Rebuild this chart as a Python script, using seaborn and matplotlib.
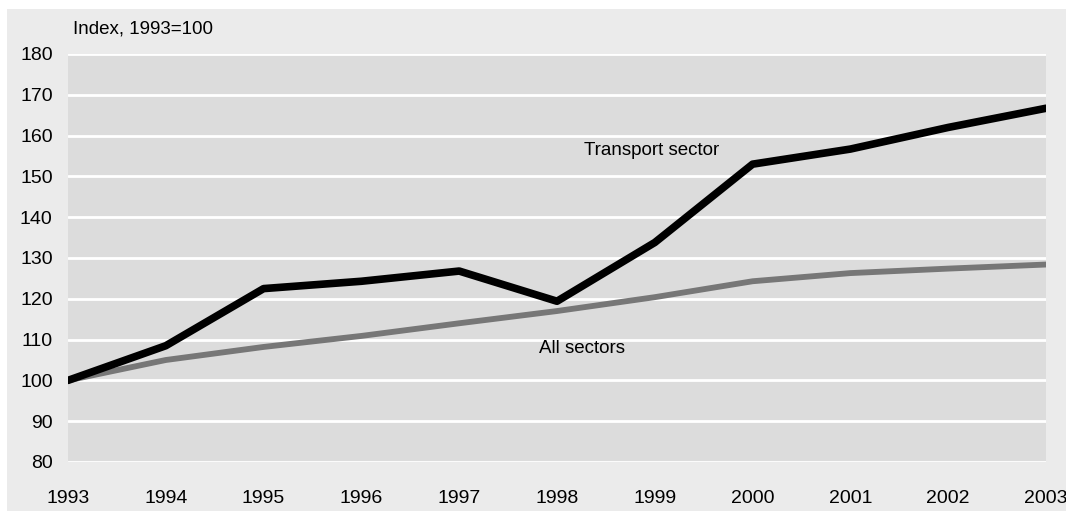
import matplotlib.pyplot as plt
import matplotlib.patches as mpatches
import pandas as pd
import seaborn as sns

# Data (Index, 1993=100)
years = [1993, 1994, 1995, 1996, 1997, 1998, 1999, 2000, 2001, 2002, 2003]
transport = [100, 108.5, 122.5, 124.3, 126.8, 119.4, 133.8, 153.0, 156.7, 162.0, 166.7]
all_sectors = [100, 105.0, 108.2, 110.9, 114.0, 117.0, 120.4, 124.3, 126.3, 127.4, 128.4]
y_ticks = [80, 90, 100, 110, 120, 130, 140, 150, 160, 170, 180]

df = pd.DataFrame({'year': years, 'Transport sector': transport, 'All sectors': all_sectors})

sns.set_style('white')
plt.rcParams['font.family'] = ['Liberation Sans', 'DejaVu Sans']
plt.rcParams['text.color'] = 'black'

fig = plt.figure(figsize=(10.66, 5.13), dpi=100, facecolor='white')
# light grey panel behind everything
fig.patches.append(mpatches.Rectangle((7 / 1066, 2 / 513), 1, 1 - 11 / 513, transform=fig.transFigure,
                                      facecolor='#ebebeb', edgecolor='none', zorder=-1))
ax = fig.add_axes([68 / 1066, 1 - 462 / 513, (1046 - 68) / 1066, (462 - 54) / 513])
ax.set_facecolor('#dcdcdc')

sns.lineplot(data=df, x='year', y='All sectors', ax=ax, color='#777777', linewidth=4.2, zorder=3)
sns.lineplot(data=df, x='year', y='Transport sector', ax=ax, color='black', linewidth=5.5, zorder=4)

ax.set_xlim(1993, 2003)
ax.set_ylim(80, 180)
ax.set_yticks(y_ticks)
ax.set_xticks(years)
ax.set_xticklabels([str(y) for y in years])
ax.yaxis.grid(True, color='white', linewidth=2)
ax.xaxis.grid(False)
ax.set_axisbelow(True)
for s in ax.spines.values():
    s.set_visible(False)
ax.tick_params(axis='both', length=0, labelsize=14, colors='black')
ax.tick_params(axis='y', pad=11)
ax.tick_params(axis='x', pad=20)
ax.set_xlabel('')
ax.set_ylabel('')

ax.text(1998.97, 155.3, 'Transport sector', fontsize=13.5, ha='center', va='baseline', color='black')
ax.text(1998.26, 106.8, 'All sectors', fontsize=13.5, ha='center', va='baseline', color='black')
fig.text(73 / 1066, 1 - 33 / 513, 'Index, 1993=100', fontsize=13.5, ha='left', va='baseline', color='black')

fig.savefig('out.png', dpi=100, facecolor=fig.get_facecolor())
